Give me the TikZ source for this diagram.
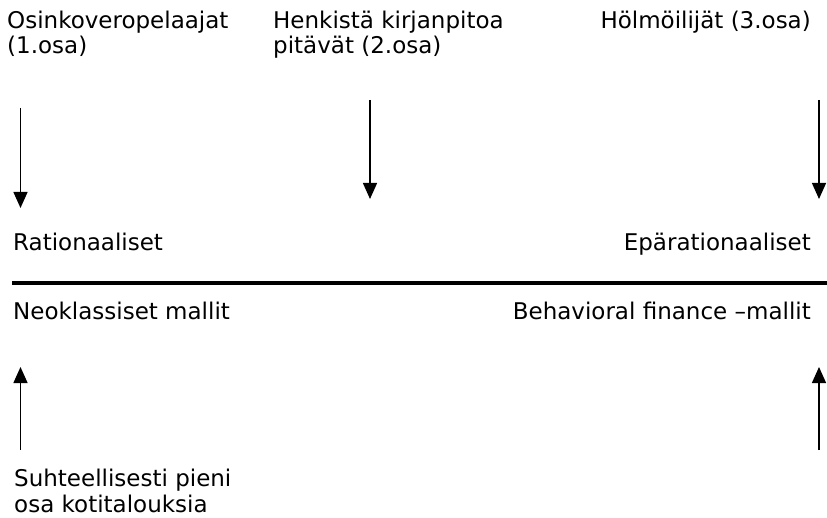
\documentclass[tikz,border=0pt]{standalone}
\usepackage{fontspec}
\setmainfont{DejaVu Sans}
\usetikzlibrary{arrows.meta, positioning}

\begin{document}
\begin{tikzpicture}[x=1pt, y=-1pt, font=\fontsize{23}{25.5}\selectfont,
  lbl/.style={inner sep=0pt, align=left},
  pil/.style={-{Triangle[width=14pt, length=16pt]}, line width=1.4pt}]
\useasboundingbox (0,0) rectangle (827,518);

% groups on top (base = last line)
\node[lbl, anchor=base west] (osink) at (7,54) {Osinkoveropelaajat\\(1.osa)};
\node[lbl, anchor=base west] (henk) at (273,54) {Henkistä kirjanpitoa\\pitävät (2.osa)};
\node[lbl, anchor=base east] (holm) at (811,29) {Hölmöilijät (3.osa)};

% the scale
\node[lbl, anchor=base west] (rat) at (13,251) {Rationaaliset};
\node[lbl, anchor=base east] (epa) at (811,251) {Epärationaaliset};
\node[lbl, anchor=base west] (neo) at (13,320) {Neoklassiset mallit};
\node[lbl, anchor=base east] (beh) at (811,320) {Behavioral finance –mallit};
\node[lbl, anchor=base west] (suht) at (14,512) {Suhteellisesti pieni\\osa kotitalouksia};

\coordinate (axl) at (12,283);
\coordinate (axr) at (827,283);
\draw[line width=4pt] (axl) -- (axr);

% arrows
\coordinate (d1a) at (20.5,108); \coordinate (d1b) at (20.5,208);
\coordinate (d2a) at (370,100);  \coordinate (d2b) at (370,199);
\coordinate (d3a) at (819,100);  \coordinate (d3b) at (819,199);
\coordinate (u1a) at (20.5,450); \coordinate (u1b) at (20.5,367);
\coordinate (u2a) at (819,450);  \coordinate (u2b) at (819,367);

\draw[pil] (d1a) -- (d1b);
\draw[pil] (d2a) -- (d2b);
\draw[pil] (d3a) -- (d3b);
\draw[pil] (u1a) -- (u1b);
\draw[pil] (u2a) -- (u2b);
\end{tikzpicture}
\end{document}
